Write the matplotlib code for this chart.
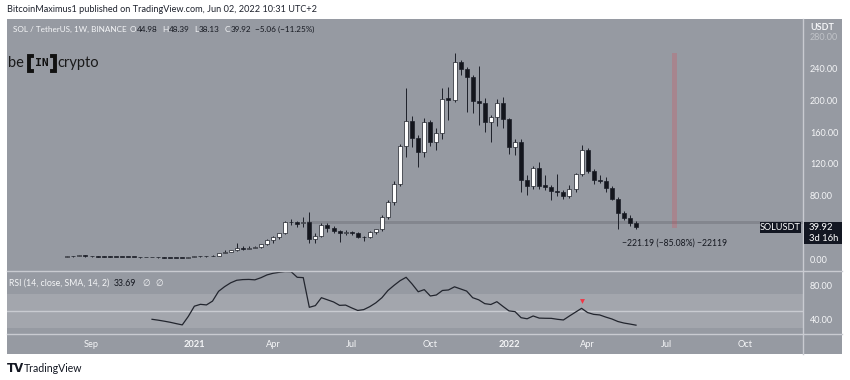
import matplotlib
matplotlib.use("Agg")
import matplotlib.pyplot as plt
from matplotlib.patches import Rectangle
from matplotlib.lines import Line2D
from matplotlib.transforms import blended_transform_factory

plt.rcParams['font.family'] = ['Lato', 'DejaVu Sans']

# ---------------- data (weekly SOL/USDT, week 0 = 2020-08-10) ----------------
opens = [2.85, 3.55, 3.45, 4.55, 3.35, 3.20, 3.10, 3.00, 2.90, 2.85,
         2.80, 2.60, 2.35, 2.05, 2.30, 2.20, 1.95, 1.80, 1.65, 1.58,
         1.52, 2.20, 3.45, 3.40, 3.30, 4.25, 7.80, 9.20, 11.30, 13.50,
         13.00, 14.40, 14.60, 18.60, 24.00, 27.80, 32.50, 47.00, 46.30, 45.80,
         47.30, 24.90, 29.00, 43.00, 39.50, 35.30, 32.40, 34.50, 32.40, 27.40,
         28.00, 33.70, 37.50, 53.40, 72.00, 95.00, 142.70, 174.00, 153.00, 135.00,
         173.00, 148.00, 159.00, 203.00, 201.00, 249.00, 240.00, 230.00, 199.00, 197.00,
         173.00, 179.00, 197.00, 177.00, 142.00, 148.00, 100.00, 92.00, 115.00, 93.00,
         91.00, 86.00, 85.00, 79.00, 88.00, 107.00, 138.00, 111.00, 100.00, 98.00,
         90.00, 76.00, 58.00, 52.00, 44.98]
highs = [3.95, 4.00, 4.95, 4.80, 3.70, 3.50, 3.30, 3.20, 3.10, 3.00,
         2.95, 2.75, 2.50, 2.40, 2.45, 2.30, 2.05, 1.90, 1.75, 1.70,
         2.30, 3.60, 3.90, 3.70, 4.50, 8.20, 11.00, 12.00, 20.50, 16.00,
         16.00, 16.00, 19.50, 25.00, 28.50, 33.00, 48.00, 50.00, 48.00, 53.40,
         59.70, 32.40, 45.00, 46.00, 41.70, 37.00, 36.50, 36.00, 33.50, 28.50,
         35.00, 38.50, 55.00, 75.00, 98.00, 145.00, 216.00, 180.00, 156.00, 178.00,
         176.00, 166.00, 215.50, 217.50, 260.06, 251.00, 243.00, 232.00, 244.00, 203.00,
         182.00, 202.00, 205.00, 178.00, 152.00, 152.00, 106.00, 118.00, 122.00, 106.00,
         93.00, 107.00, 87.00, 93.00, 109.00, 144.00, 140.00, 114.00, 106.00, 103.00,
         92.00, 78.00, 60.00, 55.50, 48.39]
lows = [2.60, 3.10, 3.30, 3.00, 2.75, 2.90, 2.80, 2.70, 2.70, 2.60,
        2.50, 2.20, 1.90, 1.95, 2.05, 1.85, 1.70, 1.60, 1.50, 1.45,
        1.50, 2.10, 3.05, 2.90, 3.20, 4.10, 7.20, 8.30, 10.50, 11.50,
        12.80, 13.80, 14.00, 17.50, 20.50, 25.00, 31.00, 43.50, 40.50, 40.00,
        20.00, 20.60, 28.00, 34.50, 32.40, 21.50, 30.50, 30.50, 26.50, 22.30,
        27.00, 32.00, 36.00, 50.00, 68.00, 92.00, 129.00, 142.00, 116.00, 129.00,
        143.00, 137.60, 152.00, 175.50, 198.00, 232.00, 186.00, 184.00, 169.00, 160.00,
        148.00, 168.00, 165.00, 133.00, 131.00, 84.00, 81.00, 88.00, 88.00, 87.00,
        75.00, 80.00, 76.00, 77.00, 85.00, 105.00, 108.00, 95.00, 95.50, 85.00,
        74.00, 37.50, 49.00, 41.70, 38.13]
closes = [3.55, 3.45, 4.55, 3.35, 3.20, 3.10, 3.00, 2.90, 2.85, 2.80,
          2.60, 2.35, 2.05, 2.30, 2.20, 1.95, 1.80, 1.65, 1.58, 1.52,
          2.20, 3.45, 3.40, 3.30, 4.25, 7.80, 9.20, 11.30, 13.50, 13.00,
          14.40, 14.60, 18.60, 24.00, 27.80, 32.50, 47.00, 46.30, 44.20, 47.30,
          24.90, 29.00, 43.00, 39.50, 35.30, 32.40, 34.50, 32.40, 27.40, 28.00,
          33.70, 37.50, 53.40, 72.00, 95.00, 142.70, 174.00, 153.00, 135.00, 173.00,
          148.00, 159.00, 202.00, 201.00, 249.00, 240.00, 230.00, 199.00, 197.00, 173.00,
          179.00, 197.00, 177.00, 142.00, 148.00, 100.00, 92.00, 115.00, 92.00, 91.00,
          86.00, 85.00, 79.00, 88.00, 107.00, 138.00, 111.00, 100.00, 98.00, 90.00,
          76.00, 58.00, 52.00, 45.00, 39.92]

rsi_first_week = 14
rsi_values = [40.6, 39.6, 38.4, 37.1, 35.5, 34.0, 44.0, 56.0, 58.2, 57.5,
              62.0, 73.5, 79.0, 83.5, 86.5, 87.3, 87.5, 87.0, 89.5, 92.8,
              94.7, 95.8, 96.7, 96.5, 90.0, 89.6, 54.7, 56.7, 66.0, 63.5,
              61.0, 57.0, 57.3, 54.0, 51.0, 52.0, 55.5, 60.0, 66.0, 74.5,
              80.5, 86.0, 90.0, 82.0, 73.0, 75.5, 68.0, 69.2, 74.5, 75.1,
              78.8, 76.3, 73.8, 66.0, 63.5, 59.0, 58.0, 61.3, 55.8, 50.5,
              49.6, 42.5, 41.2, 44.5, 42.0, 41.8, 41.7, 40.6, 39.8, 44.5,
              49.0, 53.5, 48.5, 46.4, 45.7, 43.2, 41.0, 38.0, 36.2, 35.0,
              33.69]
rsi_marker_week = 85
rsi_marker_value = 62.5

tick_weeks = [4, 21, 34, 47, 60, 73, 86, 99, 112]
tick_labels = ['Sep', '2021', 'Apr', 'Jul', 'Oct', '2022', 'Apr', 'Jul', 'Oct']
price_ticks = [0, 80, 120, 160, 200, 240]
rsi_ticks = [40, 80]

support_low, support_high = 43.8, 48.0
support_start_week = 39.6
measure_week = 100.4
measure_top, measure_bottom = 260.06, 38.87
measure_text = '\u2212221.19 (\u221285.08%) \u221222119'
last_price = 39.92

# ---------------- styling ----------------
W, H = 850, 380
BG = '#969aa2'
BAND = '#a3a6ad'
SEP = '#c9cbd1'
DARK = '#151820'
LIGHT = '#f4f5f7'


def fx(px):
    return px / W


def fy(py):
    return 1 - py / H


fig = plt.figure(figsize=(W / 100, H / 100), dpi=100, facecolor='white')
fig.add_artist(Rectangle((fx(7), fy(354)), fx(835), (354 - 19) / H,
                         transform=fig.transFigure, facecolor=BG,
                         edgecolor='none', zorder=-10))

ax = fig.add_axes([fx(7), fy(270.5), fx(796), (270.5 - 20) / H])
ax_r = fig.add_axes([fx(7), fy(334), fx(796), (334 - 271) / H], sharex=ax)

for a in (ax, ax_r):
    a.set_facecolor(BG)
    for s in a.spines.values():
        s.set_visible(False)

ax.set_xlim(-9.97, 121.6)
ax.set_ylim(-14.5, 301.8)
ax_r.set_ylim(23.3, 97.4)

# candles
weeks = list(range(len(opens)))
body_w = 0.66
for i, o, h, l, c in zip(weeks, opens, highs, lows, closes):
    up = c >= o
    ax.vlines(i, l, h, color='#1d2029', lw=0.7, zorder=2)
    bottom = min(o, c)
    height = max(abs(c - o), 0.9)
    ax.bar(i, height, bottom=bottom, width=body_w,
           color='white' if up else '#14161d',
           edgecolor='#1d2029', linewidth=0.5, zorder=3)

# support band
ax.add_patch(Rectangle((support_start_week, support_low), 121.6 - support_start_week,
                       support_high - support_low, facecolor='#80838b',
                       edgecolor='none', alpha=0.85, zorder=1))

# measurement bar
ax.add_patch(Rectangle((measure_week - 0.4, measure_bottom), 0.8,
                       measure_top - measure_bottom, facecolor='#e0434f',
                       edgecolor='none', alpha=0.24, zorder=1))
ax.text(measure_week, 20.2, measure_text, ha='center', va='center',
        fontsize=6.2, color=DARK, zorder=4)

# price axis ticks
ax.yaxis.tick_right()
ax.set_yticks(price_ticks)
ax.set_yticklabels([f'{v:.2f}' for v in price_ticks])
ax.tick_params(axis='y', length=0, pad=5, labelsize=6.5, labelcolor=LIGHT)
ax.tick_params(axis='x', bottom=False, labelbottom=False)
ax.text(1 + 7 / 796, 280, '280.00', transform=ax.get_yaxis_transform(),
        fontsize=6.5, color=LIGHT, alpha=0.45, va='center', ha='left', clip_on=False)
fig.text(fx(810), fy(27.5), 'USDT', fontsize=6.5, color=LIGHT, va='center',
         ha='left', fontweight='bold')

# RSI panel
ax_r.axhspan(30, 70, facecolor=BAND, edgecolor='none', zorder=0)
ax_r.axhline(50, color=SEP, lw=1.0, zorder=1)
rsi_weeks = list(range(rsi_first_week, rsi_first_week + len(rsi_values)))
ax_r.plot(rsi_weeks, rsi_values, color='#22252e', lw=0.9, zorder=3)
ax_r.plot([rsi_marker_week], [rsi_marker_value], marker='v', color='#f23645',
          ms=3.5, mec='none', zorder=4)
ax_r.yaxis.tick_right()
ax_r.set_yticks(rsi_ticks)
ax_r.set_yticklabels([f'{v:.2f}' for v in rsi_ticks])
ax_r.tick_params(axis='y', length=0, pad=5, labelsize=6.5, labelcolor=LIGHT)
ax_r.set_xticks(tick_weeks)
ax_r.set_xticklabels(tick_labels)
ax_r.tick_params(axis='x', length=0, pad=4.2, labelsize=6.7, labelcolor=LIGHT)
for t in ax_r.get_xticklabels():
    if t.get_text() in ('2021', '2022'):
        t.set_fontweight('bold')

# separators
for (x0, y0, x1, y1) in [(7, 270.5, 842, 270.5), (7, 334, 842, 334), (803, 19, 803, 354)]:
    fig.add_artist(Line2D([fx(x0), fx(x1)], [fy(y0), fy(y1)], transform=fig.transFigure,
                          color=SEP, lw=1.0, zorder=5))

# last price labels
bt = blended_transform_factory(fig.transFigure, ax.transData)
px_per_unit = 0.792
fig.add_artist(Rectangle((fx(803.5), last_price - 16.5 / px_per_unit), fx(38.5),
                         22 / px_per_unit, transform=bt, facecolor='#131722',
                         edgecolor='none', zorder=6))
fig.text(fx(809), last_price, f'{last_price:.2f}', transform=bt, fontsize=6.8,
         color='white', va='center', ha='left', zorder=7)
fig.text(fx(809), last_price - 11 / px_per_unit, '3d 16h', transform=bt, fontsize=6.8,
         color='white', va='center', ha='left', zorder=7)
fig.add_artist(Rectangle((fx(760), last_price - 5.5 / px_per_unit), fx(40.5),
                         11 / px_per_unit, transform=bt, facecolor='#131722',
                         edgecolor='none', zorder=6))
fig.text(fx(780.2), last_price, 'SOLUSDT', transform=bt, fontsize=6.6,
         color='white', va='center', ha='center', zorder=7)


# chained header texts
def chain(host, pieces, x_px, y_px, size):
    first_s, first_c, _ = pieces[0]
    prev = fig.text(fx(x_px), fy(y_px), first_s, fontsize=size, color=first_c,
                    va='center', ha='left', zorder=8)
    for s, c, gap in pieces[1:]:
        prev = host.annotate(s, xy=(1, 0), xycoords=prev, xytext=(gap, 0),
                             textcoords='offset points', va='bottom', ha='left',
                             fontsize=size, color=c, annotation_clip=False, zorder=8)


chain(ax, [('SOL / TetherUS, 1W, BINANCE', LIGHT, 0),
           ('O', LIGHT, 2.5), ('44.98', DARK, 0.2),
           ('H', LIGHT, 3.5), ('48.39', DARK, 0.2),
           ('L', LIGHT, 3.5), ('38.13', DARK, 0.2),
           ('C', LIGHT, 3.5), ('39.92', DARK, 0.2),
           ('\u22125.06 (\u221211.25%)', DARK, 2.5)], 13, 29, 5.9)

chain(ax_r, [('RSI (14, close, SMA, 14, 2)', LIGHT, 0),
             ('33.69', DARK, 3.5), ('\u2205', LIGHT, 4.5), ('\u2205', LIGHT, 3.5)],
      9, 283, 6.3)

fig.text(fx(7), fy(10), 'BitcoinMaximus1 published on TradingView.com, Jun 02, 2022 10:31 UTC+2',
         fontsize=6.6, color='#1e222d', va='center', ha='left')

# beincrypto logo
fig.text(fx(8), fy(63), 'be', fontsize=10.5, color='#1a1a1a', va='center', ha='left')
fig.text(fx(57), fy(63), 'crypto', fontsize=10.5, color='#1a1a1a', va='center', ha='left')
for xs in ((32, 29, 29, 32), (51.5, 54.5, 54.5, 51.5)):
    fig.add_artist(Line2D([fx(v) for v in xs], [fy(55.5), fy(55.5), fy(71), fy(71)],
                          transform=fig.transFigure, color='#111111', lw=2.8,
                          solid_joinstyle='miter', zorder=8))
fig.text(fx(41.8), fy(63.3), 'IN', fontsize=8.2, color='#111111', va='center',
         ha='center', fontweight='bold', family=['DejaVu Sans Mono', 'DejaVu Sans'])

# TradingView footer
fig.text(fx(7), fy(368), 'TV', fontsize=8.5, color='#131722', va='center', ha='left',
         fontweight='heavy', family=['DejaVu Sans'])
fig.text(fx(23.5), fy(368), 'TradingView', fontsize=7.6, color='#131722', va='center', ha='left')

fig.savefig('out.png', dpi=100, facecolor='white')
